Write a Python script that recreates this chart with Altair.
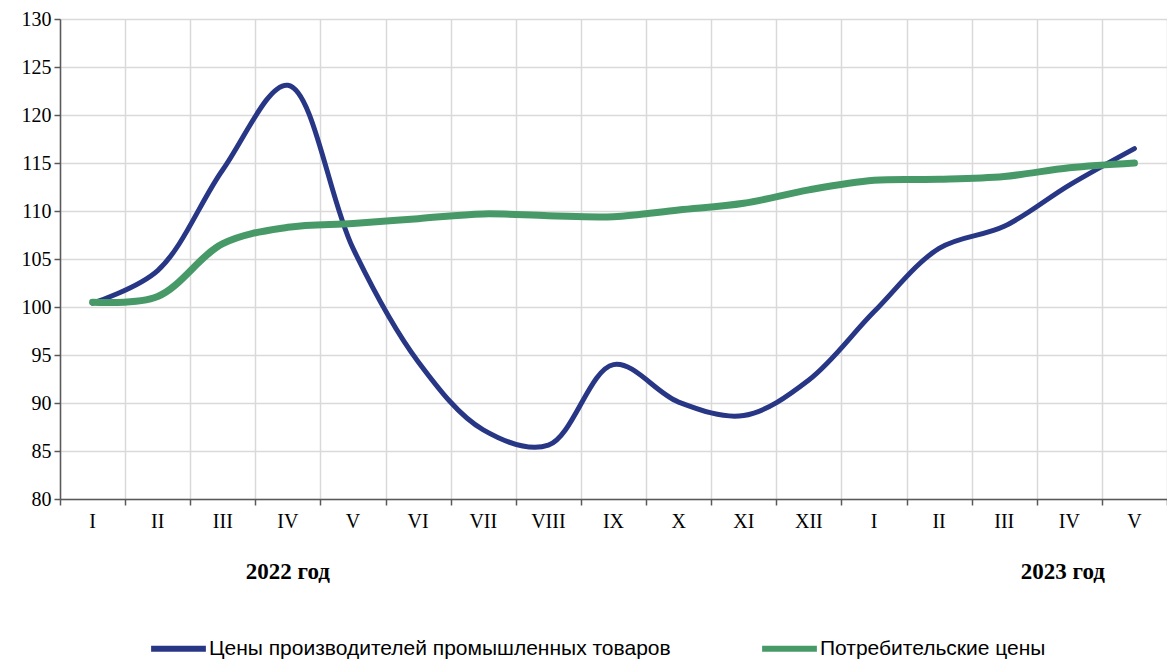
import altair as alt
import pandas as pd

months = ["I", "II", "III", "IV", "V", "VI", "VII", "VIII", "IX", "X", "XI", "XII",
          "I", "II", "III", "IV", "V"]
producer = [100.4, 103.8, 114.3, 123.1, 106.1, 94.3, 87.2, 85.6, 94.0, 90.1, 88.7,
            92.4, 99.5, 106.1, 108.4, 112.7, 116.5]
consumer = [100.5, 101.1, 106.6, 108.3, 108.7, 109.2, 109.7, 109.5, 109.4, 110.1,
            110.8, 112.2, 113.2, 113.3, 113.6, 114.5, 115.0]
series_names = ["Цены производителей промышленных товаров", "Потребительские цены"]
series_colors = ["#283686", "#479A68"]
years = ["2022 год", "2023 год"]
year_pos = [3.5, 15.4]

rows = []
for i, m in enumerate(months):
    rows.append({"x": i + 0.5, "m": m, "v": producer[i], "s": series_names[0]})
    rows.append({"x": i + 0.5, "m": m, "v": consumer[i], "s": series_names[1]})
df = pd.DataFrame(rows)
lab_df = pd.DataFrame({"x": [i + 0.5 for i in range(len(months))], "m": months})
yr_df = pd.DataFrame({"x": year_pos, "t": years})

W, H = 1107, 480
xscale = alt.Scale(domain=[0, 17], nice=False, zero=False)
yscale = alt.Scale(domain=[80, 130], nice=False, zero=False)

color = alt.Color("s:N", scale=alt.Scale(domain=series_names, range=series_colors),
                  sort=series_names,
                  legend=alt.Legend(title=None, orient="none", direction="horizontal",
                                    legendX=88, legendY=599, symbolType="stroke",
                                    symbolSize=3000, symbolStrokeWidth=6,
                                    labelFont="Liberation Sans", labelFontSize=21,
                                    labelColor="#000000", labelOffset=0,
                                    columnPadding=79, padding=0, labelLimit=800,
                                    rowPadding=0))

base = alt.Chart(df).encode(
    x=alt.X("x:Q", scale=xscale,
            axis=alt.Axis(values=list(range(18)), labels=False, title=None, tickSize=6,
                          grid=True, gridColor="#D9D9D9", gridWidth=1.5,
                          domainColor="#595959", tickColor="#595959")),
    y=alt.Y("v:Q", scale=yscale,
            axis=alt.Axis(values=list(range(80, 131, 5)), title=None, tickSize=6,
                          grid=True, gridColor="#D9D9D9", gridWidth=1.5,
                          domainColor="#595959", tickColor="#595959",
                          labelFont="Liberation Serif", labelFontSize=20,
                          labelColor="#000000", labelPadding=3)),
    color=color,
)

blue = base.transform_filter(alt.datum.s == series_names[0]).mark_line(
    interpolate="catmull-rom", strokeWidth=5, strokeCap="round")
green = base.transform_filter(alt.datum.s == series_names[1]).mark_line(
    interpolate="catmull-rom", strokeWidth=7, strokeCap="round")

labels = alt.Chart(lab_df).mark_text(
    font="Liberation Serif", fontSize=20, color="#000000", baseline="middle"
).encode(x=alt.X("x:Q", scale=xscale), y=alt.value(H + 23), text="m:N")

yrs = alt.Chart(yr_df).mark_text(
    font="Liberation Serif", fontSize=23, fontWeight="bold", color="#000000",
    baseline="middle"
).encode(x=alt.X("x:Q", scale=xscale), y=alt.value(H + 73), text="t:N")

chart = alt.layer(blue, green, labels, yrs).properties(
    width=W, height=H,
    autosize=alt.AutoSizeParams(type="none"),
    padding={"left": 52, "top": 11, "right": 0, "bottom": 162},
).configure_view(stroke=None).configure_axis(domainWidth=1.5, tickWidth=1.5)

chart.save("out.html", embed_options={"renderer": "svg", "actions": False})
